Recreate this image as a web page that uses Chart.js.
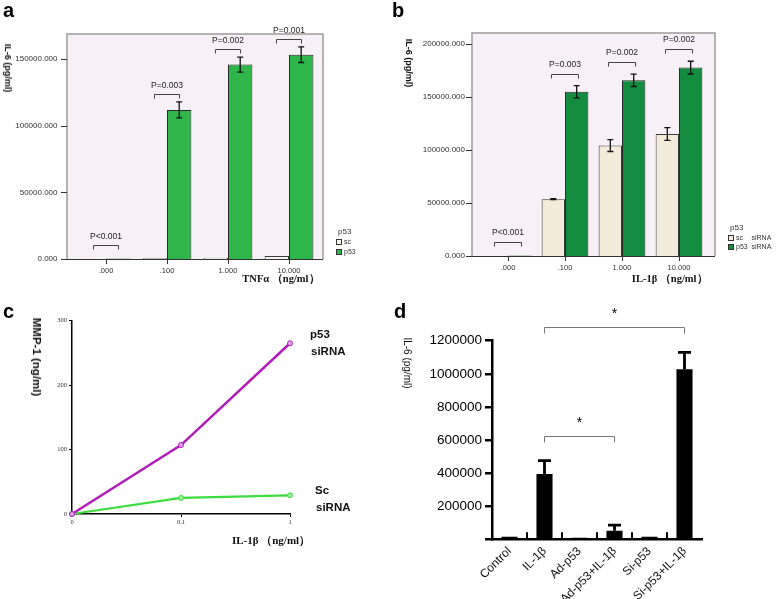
<!DOCTYPE html>
<html>
<head>
<meta charset="utf-8">
<script src="https://cdn.jsdelivr.net/npm/chart.js@4.4.0/dist/chart.umd.min.js"></script>
<style>
  body { margin: 0; background: #fff; }
  #wrap { position: relative; width: 778px; height: 599px; overflow: hidden; font-family: "Liberation Sans", Arial, sans-serif; }
  canvas { position: absolute; }
  .letter { position: absolute; font: bold 20px/20px "Liberation Sans", Arial, sans-serif; color: #000; }
  .tt { position: absolute; white-space: nowrap; color: #111; transform: translate(-50%, -50%); }
  .rot { transform: translate(-50%, -50%) rotate(90deg); }
</style>
</head>
<body>
<div id="wrap">
  <canvas id="ca" width="390" height="290" style="left:0;top:0"></canvas>
  <canvas id="cb" width="388" height="290" style="left:390px;top:0"></canvas>
  <canvas id="cc" width="390" height="309" style="left:0;top:290px"></canvas>
  <canvas id="cd" width="388" height="309" style="left:390px;top:290px"></canvas>

  <div class="letter" style="left:3px;top:0">a</div>
  <div class="letter" style="left:392px;top:0">b</div>
  <div class="letter" style="left:3px;top:301px">c</div>
  <div class="letter" style="left:394px;top:301px">d</div>

  <div class="tt rot" style="left:8px;top:68px;font:bold 9px 'Liberation Sans',Arial">IL-6 (pg/ml)</div>
  <div class="tt rot" style="left:409px;top:63px;font:bold 9px 'Liberation Sans',Arial">IL-6 (pg/ml)</div>
  <div class="tt rot" style="left:37px;top:357px;font:bold 11.5px 'Liberation Sans',Arial">MMP-1 (ng/ml)</div>
  <div class="tt rot" style="left:407px;top:363px;font:10px 'Liberation Sans',Arial">IL-6 (pg/ml)</div>
  <div class="tt" style="left:271px;top:540px;font:bold 11px 'Liberation Serif',serif">IL-1β （ng/ml）</div>
</div>

<script>
// a: IL-6 after TNFα
const doseA = ['.000', '.100', '1.000', '10.000'];
const scA = [0, 500, 1000, 2200];
const scAErr = [0, 0, 0, 0];
const p53A = [400, 112000, 146000, 153500];
const p53AErr = [0, 6000, 5700, 5900];
const pA = ['P<0.001', 'P=0.003', 'P=0.002', 'P=0.001'];
const yTicksA = [0, 50000, 100000, 150000];

// b: IL-6 after IL-1β
const doseB = ['.000', '.100', '1.000', '10.000'];
const scB = [0, 53500, 104000, 114800];
const scBErr = [0, 500, 5600, 6000];
const p53B = [500, 154700, 165400, 177400];
const p53BErr = [0, 5800, 5800, 6000];
const pB = ['P<0.001', 'P=0.003', 'P=0.002', 'P=0.002'];
const yTicksB = [0, 50000, 100000, 150000, 200000];

// c: MMP-1
const doseC = ['0', '0.1', '1'];
const mmpP53 = [0, 107, 265];
const mmpSc = [0, 25, 29];

// d: IL-6 by group
const groupsD = ['Control', 'IL-1β', 'Ad-p53', 'Ad-p53+IL-1β', 'Si-p53', 'Si-p53+IL-1β'];
const il6D = [15000, 395000, 10000, 52000, 15000, 1027000];
const il6DErr = [0, 80000, 0, 34000, 0, 103000];
const sigD = [[1, 5], [1, 3]];

const SANS = '"Liberation Sans", Arial, sans-serif';

// shaded plot box of the SPSS panels
const framePlugin = {
  id: 'frame',
  beforeDraw(chart, args, o) {
    const ctx = chart.ctx, a = chart.chartArea, y = chart.scales.y;
    const l = a.left - o.padL, r = a.right + o.padR;
    ctx.save();
    ctx.fillStyle = o.fill;
    ctx.fillRect(l, a.top, r - l, a.bottom - a.top);
    ctx.strokeStyle = o.stroke;
    ctx.lineWidth = 1.5;
    ctx.beginPath();
    ctx.moveTo(l, a.bottom); ctx.lineTo(l, a.top); ctx.lineTo(r, a.top); ctx.lineTo(r, a.bottom);
    ctx.stroke();
    ctx.strokeStyle = '#333';
    ctx.lineWidth = 1;
    ctx.beginPath();
    ctx.moveTo(l, a.bottom + 0.5); ctx.lineTo(r, a.bottom + 0.5);
    y.ticks.forEach(function(t) {
      const py = Math.round(y.getPixelForValue(t.value)) + 0.5;
      ctx.moveTo(l - 6, py); ctx.lineTo(l, py);
    });
    ctx.stroke();
    ctx.restore();
  }
};

const errorPlugin = {
  id: 'errbars',
  afterDatasetsDraw(chart, args, o) {
    const ctx = chart.ctx, y = chart.scales.y;
    ctx.save();
    ctx.strokeStyle = o.color;
    ctx.lineWidth = o.width;
    chart.data.datasets.forEach(function(ds, di) {
      if (!ds.errors) return;
      chart.getDatasetMeta(di).data.forEach(function(bar, i) {
        const e = ds.errors[i];
        if (!e) return;
        const v = ds.data[i];
        const yt = y.getPixelForValue(v + e);
        const yb = y.getPixelForValue(o.upOnly ? v : v - e);
        ctx.beginPath();
        ctx.moveTo(bar.x, yb); ctx.lineTo(bar.x, yt);
        ctx.moveTo(bar.x - o.cap / 2, yt); ctx.lineTo(bar.x + o.cap / 2, yt);
        if (!o.upOnly) { ctx.moveTo(bar.x - o.cap / 2, yb); ctx.lineTo(bar.x + o.cap / 2, yb); }
        ctx.stroke();
      });
    });
    ctx.restore();
  }
};

function topOf(chart, i) {
  const y = chart.scales.y;
  let top = chart.chartArea.bottom;
  chart.data.datasets.forEach(function(ds) {
    const e = ds.errors ? ds.errors[i] : 0;
    top = Math.min(top, y.getPixelForValue(ds.data[i] + e));
  });
  return top;
}

function bracket(ctx, x1, x2, by, rise) {
  ctx.beginPath();
  ctx.moveTo(x1, by + rise); ctx.lineTo(x1, by); ctx.lineTo(x2, by); ctx.lineTo(x2, by + rise);
  ctx.stroke();
}

// P-value brackets over each dose
const pvalPlugin = {
  id: 'pvals',
  afterDatasetsDraw(chart, args, o) {
    const ctx = chart.ctx, a = chart.chartArea, x = chart.scales.x;
    ctx.save();
    ctx.strokeStyle = '#444'; ctx.fillStyle = '#222'; ctx.lineWidth = 1;
    ctx.font = '8.5px ' + SANS;
    ctx.textAlign = 'center'; ctx.textBaseline = 'middle';
    o.labels.forEach(function(txt, i) {
      const by = Math.round(Math.min(topOf(chart, i) - o.gap, a.bottom - 14)) + 0.5;
      const cx = x.getPixelForTick(i);
      bracket(ctx, cx - o.w / 2, cx + o.w / 2, by, 4);
      ctx.fillText(txt, cx, by - o.textOff);
    });
    ctx.restore();
  }
};

// significance brackets between groups
const sigPlugin = {
  id: 'sig',
  afterDatasetsDraw(chart, args, o) {
    const ctx = chart.ctx, x = chart.scales.x;
    ctx.save();
    ctx.strokeStyle = '#777'; ctx.fillStyle = '#000'; ctx.lineWidth = 1;
    ctx.font = '14px ' + SANS;
    ctx.textAlign = 'center'; ctx.textBaseline = 'middle';
    o.pairs.forEach(function(p) {
      let top = chart.chartArea.bottom;
      for (let i = p[0]; i <= p[1]; i++) top = Math.min(top, topOf(chart, i));
      const by = Math.round(top - o.gap) + 0.5;
      const x1 = x.getPixelForTick(p[0]), x2 = x.getPixelForTick(p[1]);
      bracket(ctx, x1, x2, by, 6);
      ctx.fillText('*', (x1 + x2) / 2, by - 13);
    });
    ctx.restore();
  }
};

// small marks between the groups of panel d
const catTickPlugin = {
  id: 'catTicks',
  afterDraw(chart) {
    const ctx = chart.ctx, x = chart.scales.x, b = chart.chartArea.bottom;
    ctx.save();
    ctx.strokeStyle = '#000'; ctx.lineWidth = 2;
    ctx.beginPath();
    for (let i = 1; i < chart.data.labels.length; i++) {
      const px = (x.getPixelForTick(i - 1) + x.getPixelForTick(i)) / 2;
      ctx.moveTo(px, b); ctx.lineTo(px, b - 7);
    }
    ctx.stroke();
    ctx.restore();
  }
};

const legendPlugin = {
  id: 'miniLegend',
  afterDraw(chart, args, o) {
    const ctx = chart.ctx;
    ctx.save();
    ctx.textBaseline = 'middle'; ctx.textAlign = 'left';
    ctx.font = '8px ' + SANS;
    ctx.fillStyle = '#333';
    ctx.fillText(o.title, o.x + 2, o.y);
    ctx.font = '7px ' + SANS;
    chart.data.datasets.forEach(function(ds, i) {
      const cy = Math.round(o.y + o.gap + i * o.row);
      ctx.fillStyle = ds.backgroundColor;
      ctx.fillRect(o.x, cy - 3, 6, 6);
      ctx.strokeStyle = '#333'; ctx.lineWidth = 1;
      ctx.strokeRect(o.x + 0.5, cy - 2.5, 5, 5);
      ctx.fillStyle = '#333';
      ds.label.split(' ').forEach(function(w, j) {
        ctx.fillText(w, o.x + 8 + o.cols[j], cy);
      });
    });
    ctx.restore();
  }
};

const endLabelPlugin = {
  id: 'endLabels',
  afterDatasetsDraw(chart) {
    const ctx = chart.ctx;
    ctx.save();
    ctx.fillStyle = '#111';
    ctx.textBaseline = 'middle'; ctx.textAlign = 'left';
    ctx.font = 'bold 11.5px ' + SANS;
    chart.data.datasets.forEach(function(ds, di) {
      const pts = chart.getDatasetMeta(di).data;
      const last = pts[pts.length - 1];
      ds.endLabel.forEach(function(line, k) {
        ctx.fillText(line, last.x + ds.endDx + k, last.y + ds.endDy + k * 17);
      });
    });
    ctx.restore();
  }
};

function spssChart(id, labels, sets, o) {
  return new Chart(document.getElementById(id), {
    type: 'bar',
    data: { labels: labels, datasets: sets },
    options: {
      responsive: false,
      animation: false,
      devicePixelRatio: 1,
      layout: { padding: { top: o.top, right: o.right, bottom: 0, left: 0 } },
      datasets: { bar: { categoryPercentage: o.catPct, barPercentage: 1 } },
      scales: {
        x: {
          grid: { drawOnChartArea: false, offset: false, tickLength: 5, color: '#333' },
          border: { display: false },
          ticks: { font: { size: 7.5 }, color: '#333', padding: 2, maxRotation: 0 },
          title: { display: true, text: o.xTitle, align: 'end', color: '#111',
                   font: { family: '"Liberation Serif", serif', size: 10.5, weight: 'bold' },
                   padding: { top: 0, bottom: 4 } },
          afterFit: function(s) { s.height = o.xh; }
        },
        y: {
          min: 0, max: o.max,
          grid: { display: false },
          border: { display: false },
          ticks: { autoSkip: false, font: { size: 8 }, color: '#333', padding: o.ypad,
                   callback: function(v) { return Number(v).toFixed(3); } },
          afterBuildTicks: function(s) {
            s.ticks = o.yTicks.map(function(v) { return { value: v }; });
          },
          afterFit: function(s) { s.width = o.left; }
        }
      },
      plugins: {
        legend: { display: false },
        tooltip: { enabled: false },
        frame: { fill: '#f7f0f6', stroke: '#9c9c9c', padL: o.padL, padR: o.padR },
        errbars: { color: '#111', width: 1.3, cap: 6, upOnly: false },
        pvals: { labels: o.pvals, gap: o.gap, w: o.bw, textOff: o.textOff },
        miniLegend: o.legend
      }
    },
    plugins: [framePlugin, errorPlugin, pvalPlugin, legendPlugin]
  });
}

spssChart('ca', doseA, [
  { label: 'sc', data: scA, errors: scAErr, backgroundColor: '#f8f5ee', borderColor: '#3a3a3a', borderWidth: 1 },
  { label: 'p53', data: p53A, errors: p53AErr, backgroundColor: '#2eb64a', borderColor: '#2a2a2a', borderWidth: 1 }
], {
  top: 34, right: 70.5, left: 75.5, xh: 31, max: 169000, yTicks: yTicksA, ypad: 10, padL: 8.5, padR: 3.5,
  catPct: 0.8, xTitle: 'TNFα （ng/ml）', pvals: pA, gap: 8, bw: 25, textOff: 9,
  legend: { title: 'p53', x: 336, y: 232, gap: 10, row: 10, cols: [0] }
});

spssChart('cb', doseB, [
  { label: 'sc siRNA', data: scB, errors: scBErr, backgroundColor: '#f3ecdb', borderColor: '#3a3a3a', borderWidth: 1 },
  { label: 'p53 siRNA', data: p53B, errors: p53BErr, backgroundColor: '#148c3f', borderColor: '#2a2a2a', borderWidth: 1 }
], {
  top: 33, right: 70.5, left: 89.5, xh: 34, max: 210000, yTicks: yTicksB, ypad: 6.5, padL: 7.5, padR: 7.5,
  catPct: 0.82, xTitle: 'IL-1β （ng/ml）', pvals: pB, gap: 12, bw: 27, textOff: 10,
  legend: { title: 'p53', x: 338, y: 227.5, gap: 10, row: 9, cols: [0, 15.5] }
});

new Chart(document.getElementById('cc'), {
  type: 'line',
  data: {
    labels: doseC,
    datasets: [
      { label: 'p53 siRNA', data: mmpP53, borderColor: '#b01cb8', borderWidth: 2.5, clip: false,
        pointRadius: 2.5, pointBackgroundColor: '#e0a3e8', pointBorderColor: '#b01cb8', pointBorderWidth: 1,
        endLabel: ['p53', 'siRNA'], endDx: 20, endDy: -8 },
      { label: 'Sc siRNA', data: mmpSc, borderColor: '#3ddc3d', borderWidth: 2.2, clip: false,
        pointRadius: 2.5, pointBackgroundColor: '#9af09a', pointBorderColor: '#3ddc3d', pointBorderWidth: 1,
        endLabel: ['Sc', 'siRNA'], endDx: 25, endDy: -4 }
    ]
  },
  options: {
    responsive: false,
    animation: false,
    devicePixelRatio: 1,
    layout: { padding: { top: 30.7, right: 100, bottom: 0, left: 0 } },
    scales: {
      x: {
        offset: false,
        grid: { drawOnChartArea: false, tickLength: 3, color: '#000' },
        border: { color: '#000', width: 1.5 },
        ticks: { font: { family: '"Liberation Serif", serif', size: 6.5 }, color: '#333', padding: 1, maxRotation: 0 },
        afterFit: function(s) { s.height = 85; }
      },
      y: {
        min: 0, max: 300,
        grid: { drawOnChartArea: false, tickLength: 3, color: '#000' },
        border: { color: '#000', width: 1.5 },
        ticks: { stepSize: 100, font: { family: '"Liberation Serif", serif', size: 6.5 }, color: '#333', padding: 2 },
        afterFit: function(s) { s.width = 72; }
      }
    },
    plugins: { legend: { display: false }, tooltip: { enabled: false } }
  },
  plugins: [endLabelPlugin]
});

new Chart(document.getElementById('cd'), {
  type: 'bar',
  data: {
    labels: groupsD,
    datasets: [{ label: 'IL-6', data: il6D, errors: il6DErr, backgroundColor: '#000', borderWidth: 0 }]
  },
  options: {
    responsive: false,
    animation: false,
    devicePixelRatio: 1,
    layout: { padding: { top: 50.7, right: 76, bottom: 0, left: 0 } },
    datasets: { bar: { categoryPercentage: 1, barPercentage: 0.46 } },
    scales: {
      x: {
        grid: { display: false },
        border: { color: '#000', width: 2.5 },
        ticks: { font: { size: 12 }, color: '#111', minRotation: 45, maxRotation: 45, autoSkip: false, padding: -3 },
        afterFit: function(s) { s.height = 59.7; }
      },
      y: {
        min: 0, max: 1200000,
        grid: { drawOnChartArea: false, tickLength: 7, color: '#000', lineWidth: 2.5 },
        border: { color: '#000', width: 2.5 },
        ticks: { stepSize: 200000, font: { size: 13.5 }, color: '#000', padding: 3,
                 callback: function(v) { return v === 0 ? '' : String(v); } },
        afterFit: function(s) { s.width = 102; }
      }
    },
    plugins: {
      legend: { display: false },
      tooltip: { enabled: false },
      errbars: { color: '#000', width: 2.8, cap: 13, upOnly: true },
      sig: { pairs: sigD, gap: 25 }
    }
  },
  plugins: [errorPlugin, sigPlugin, catTickPlugin]
});
</script>
</body>
</html>
